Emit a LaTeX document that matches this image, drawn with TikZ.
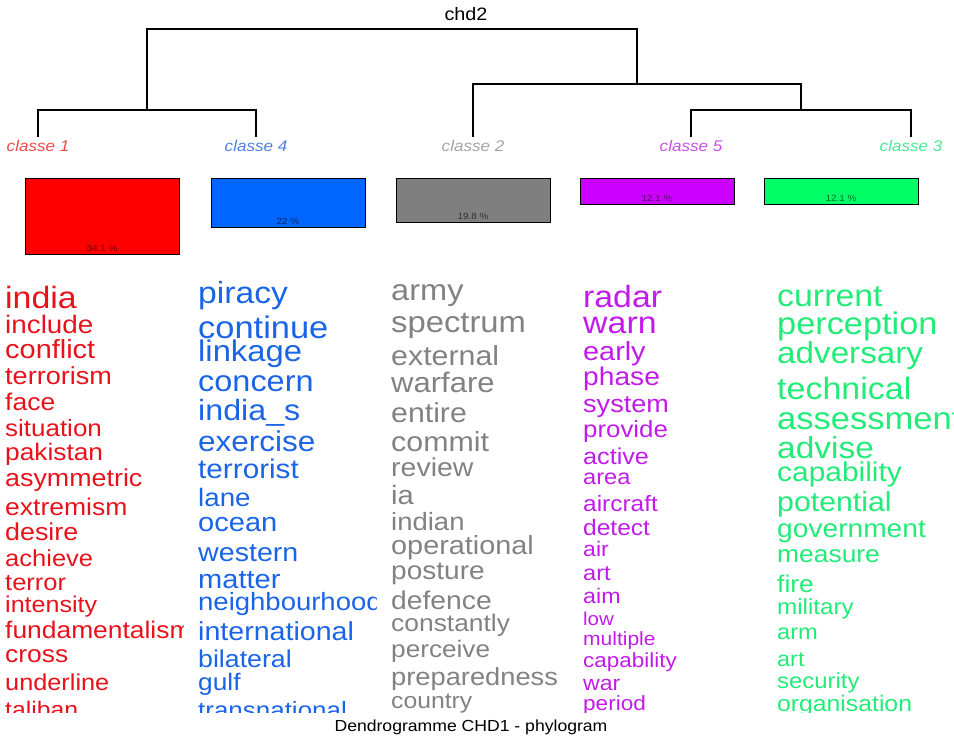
\documentclass[tikz,border=0pt]{standalone}
\usepackage{fontspec}
\setmainfont{Liberation Sans}[FakeStretch=1.1]
\definecolor{boxred}{HTML}{FF0000}
\definecolor{boxblue}{HTML}{0066FF}
\definecolor{boxgrey}{HTML}{7F7F7F}
\definecolor{boxmag}{HTML}{CC00FF}
\definecolor{boxgreen}{HTML}{00FF66}
\definecolor{wred}{HTML}{E8121C}
\definecolor{wblue}{HTML}{1A64E6}
\definecolor{wgrey}{HTML}{828282}
\definecolor{wmag}{HTML}{C21AEA}
\definecolor{wgreen}{HTML}{22EC78}
\definecolor{lred}{HTML}{F04848}
\definecolor{lblue}{HTML}{5080E0}
\definecolor{lgrey}{HTML}{A4A4A4}
\definecolor{lmag}{HTML}{C850E8}
\definecolor{lgreen}{HTML}{48E894}
\begin{document}
\begin{tikzpicture}[x=1pt,y=-1pt,
    dendro/.style={line width=1.2pt},
    bar/.style={draw=black,line width=1pt},
    klass/.style={anchor=base,inner sep=0pt,font=\fontsize{15.5}{15.5}\selectfont\itshape},
    pct/.style={anchor=base,inner sep=0pt,text opacity=0.6,font=\fontsize{9}{9}\selectfont},
    word/.style={anchor=base west,inner sep=0pt}]
  \useasboundingbox (0,0) rectangle (954,736);
  \node[anchor=base,inner sep=0pt,font=\fontsize{18}{18}\selectfont] (chd) at (466,20) {chd2};
  % tree
  \coordinate (leaf1) at (38,137);
  \coordinate (leaf4) at (256,137);
  \coordinate (leaf2) at (473,137);
  \coordinate (leaf5) at (691,137);
  \coordinate (leaf3) at (911,137);
  \coordinate (j14) at (147,110);
  \coordinate (j53) at (801,110);
  \coordinate (j253) at (637,84);
  \coordinate (root) at (392,29);
  \draw[dendro] (leaf1) |- (j14) -| (leaf4);
  \draw[dendro] (leaf5) |- (j53) -| (leaf3);
  \draw[dendro] (leaf2) |- (j253) -| (j53);
  \draw[dendro] (j14) |- (root) -| (j253);
  \foreach \n/\c in {1/lred,4/lblue,2/lgrey,5/lmag,3/lgreen}
    \node[klass,text=\c] (lab\n) at ([yshift=-14pt]leaf\n) {classe \n};
  % class sizes
  \foreach \x/\p/\c [count=\i] in {25/34.1/boxred,211/22/boxblue,396/19.8/boxgrey,580/12.1/boxmag,764/12.1/boxgreen}{
    \draw[bar,fill=\c] (\x,178) rectangle ++(154,{2.23*\p});
    \node[pct] (pct\i) at ({\x+77},{175+2.23*\p}) {\p{} \%};
  }
  % words of each class
  \begin{scope}
    \clip (-10,260) rectangle (183,712);
    \foreach \w/\s/\y [count=\i] in {india/30.8/308,include/25.3/333,conflict/26.3/358,
      terrorism/24.6/384,face/24.1/410,situation/23.6/436.5,pakistan/23.9/460,
      asymmetric/24.4/486,extremism/24.1/515,desire/24.4/540,achieve/23.2/566,
      terror/23.2/590,intensity/22.8/612,fundamentalism/24/638,cross/24/662,
      underline/23/690,taliban/22.5/717}
    \node[word,text=wred,font=\fontsize{\s}{\s}\selectfont] (red\i) at (5,\y) {\w};
  \end{scope}
  \begin{scope}
    \clip (183,260) rectangle (376,712);
    \foreach \w/\s/\y [count=\i] in {piracy/30.6/303,continue/31.3/338,linkage/29.8/361,
      concern/29.5/391.5,india\_s/29.3/420.5,exercise/28.6/451,terrorist/27/478,
      lane/25.2/506.5,ocean/26.4/531.5,western/26/561.5,matter/26.4/588,
      neighbourhood/25/610.5,international/26/640.5,bilateral/24.3/667,
      gulf/23.9/690.5,transnational/23.6/718}
    \node[word,text=wblue,font=\fontsize{\s}{\s}\selectfont] (blue\i) at (198,\y) {\w};
  \end{scope}
  \begin{scope}
    \clip (376,260) rectangle (569,712);
    \foreach \w/\s/\y [count=\i] in {army/29.6/300.5,spectrum/29.8/332.5,external/27.6/365.5,
      warfare/28.2/392.5,entire/27.5/422.5,commit/27.6/451,review/25.9/476,ia/26.5/504,
      indian/25/530.5,operational/26.2/554,posture/25.5/579,defence/25.7/609.5,
      constantly/24/631,perceive/23.8/657,preparedness/24.8/685.5,country/22.5/708}
    \node[word,text=wgrey,font=\fontsize{\s}{\s}\selectfont] (grey\i) at (391,\y) {\w};
  \end{scope}
  \begin{scope}
    \clip (569,260) rectangle (762,712);
    \foreach \w/\s/\y [count=\i] in {radar/30.7/307.5,warn/30.8/333.5,early/26.2/360.5,
      phase/25.6/385,system/24.6/412.5,provide/23.5/437.5,active/22.9/464.5,
      area/21.5/484.5,aircraft/22.2/511,detect/22.3/535.5,air/21/556,art/21.4/580,
      aim/21.1/603.5,low/18.6/625,multiple/19.1/645,capability/20.4/667.5,
      war/21/690.5,period/20.5/710}
    \node[word,text=wmag,font=\fontsize{\s}{\s}\selectfont] (mag\i) at (583,\y) {\w};
  \end{scope}
  \begin{scope}
    \clip (762,260) rectangle (954,712);
    \foreach \w/\s/\y [count=\i] in {current/30.8/306.5,perception/31.2/334,
      adversary/30.2/363,technical/30.9/399,assessment/31.4/429,advise/30.4/458,
      capability/27.2/481,potential/27.5/511,government/25.6/537,measure/24/562,
      fire/24/592,military/22/614,arm/21.5/639,art/21.3/666,
      security/21.7/688,organisation/22.5/711}
    \node[word,text=wgreen,font=\fontsize{\s}{\s}\selectfont] (green\i) at (777,\y) {\w};
  \end{scope}
  \node[anchor=base,inner sep=0pt,font=\fontsize{16}{16}\selectfont] (title) at (471,731) {Dendrogramme CHD1 - phylogram};
\end{tikzpicture}
\end{document}
